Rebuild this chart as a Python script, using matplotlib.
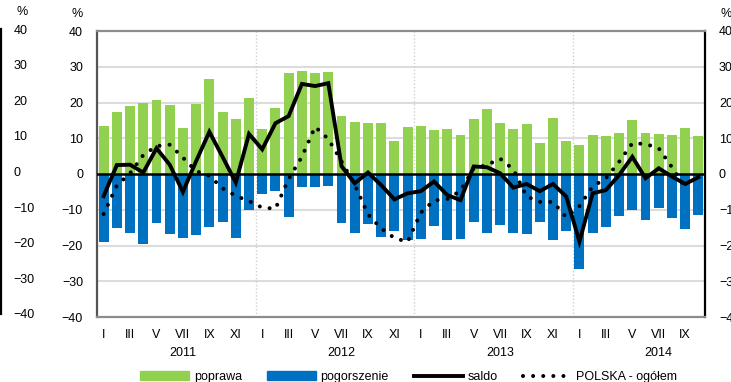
import numpy as np
import matplotlib
matplotlib.use("Agg")
import matplotlib.pyplot as plt
from matplotlib.lines import Line2D
from matplotlib.patches import Patch
from matplotlib import transforms

plt.rcParams['font.family'] = ['Liberation Sans', 'DejaVu Sans']
plt.rcParams['font.size'] = 9

# monthly survey results, I 2011 - X 2014
years = ['2011', '2012', '2013', '2014']
roman = ['I', 'II', 'III', 'IV', 'V', 'VI', 'VII', 'VIII', 'IX', 'X', 'XI', 'XII']

poprawa = [13.3, 17.3, 19.0, 20.0, 20.8, 19.4, 12.9, 19.7, 26.5, 17.3, 15.5, 21.3,
           12.7, 18.6, 28.3, 28.8, 28.3, 28.5, 16.3, 14.6, 14.4, 14.4, 9.3, 13.1,
           13.5, 12.3, 12.7, 10.9, 15.4, 18.1, 14.3, 12.5, 14.1, 8.8, 15.6, 9.2,
           8.0, 10.9, 10.6, 11.6, 15.0, 11.5, 11.2, 10.9, 12.9, 10.5]
pogorszenie = [-19.1, -15.2, -16.5, -19.7, -13.7, -16.9, -17.8, -17.2, -14.7, -13.4, -17.8, -10.2,
               -5.6, -4.7, -12.1, -3.5, -3.7, -3.4, -13.7, -16.5, -14.1, -17.5, -16.0, -18.5,
               -18.2, -14.5, -18.6, -18.2, -13.5, -16.5, -14.4, -16.5, -16.9, -13.3, -18.4, -16.0,
               -26.7, -16.6, -14.9, -11.7, -10.1, -12.8, -9.6, -12.2, -15.4, -11.4]
saldo = [-6.2, 2.5, 2.6, 0.4, 7.2, 2.6, -5.0, 3.6, 11.8, 4.8, -2.4, 11.2,
         6.9, 14.2, 16.2, 25.2, 24.6, 25.4, 2.2, -2.6, 0.4, -3.1, -7.1, -5.4,
         -4.8, -2.1, -5.9, -7.3, 2.1, 1.9, 0.2, -3.8, -2.8, -4.8, -2.8, -6.3,
         -18.9, -5.4, -4.5, -0.3, 4.8, -1.2, 1.6, -0.7, -2.8, -0.9]
polska = [-11.2, -3.2, 0.2, 5.3, 7.8, 8.2, 4.6, 0.8, -0.5, -4.0, -6.1, -7.6,
          -9.4, -9.7, -1.4, 4.8, 13.2, 9.8, 3.5, -3.0, -11.3, -15.2, -17.9, -19.0,
          -10.8, -7.4, -7.0, -4.7, 1.6, 2.5, 4.3, 1.3, -6.3, -7.8, -7.8, -12.1,
          -9.0, -3.5, -1.2, 3.4, 8.6, 8.4, 7.2, 1.9, -3.8, np.nan]

green = '#92D050'
blue = '#0070C0'
n = len(poprawa)
x = np.arange(n)

W, H = 731, 382
fig = plt.figure(figsize=(W / 100, H / 100), dpi=100)
ax = fig.add_axes([97 / W, 1 - 317 / H, 608 / W, 286 / H])

ax.bar(x, poprawa, width=0.75, color=green, zorder=2)
ax.bar(x, pogorszenie, width=0.75, color=blue, zorder=2)
ax.axhline(0, color='black', lw=1.8, zorder=3)
ax.plot(x, saldo, color='black', lw=2.8, solid_joinstyle='miter', zorder=4)
ax.plot(x, polska, color='black', lw=2.9, linestyle=(0, (0.01, 2.5)),
        dash_capstyle='round', zorder=5)

ax.set_xlim(-0.5, n - 0.5)
ax.set_ylim(-40, 40)
ax.set_yticks(range(-40, 41, 10))
for v in range(-30, 31, 10):
    if v != 0:
        ax.axhline(v, color='#dcdcdc', lw=1.5, zorder=1)
for b in (11.5, 23.5, 35.5):
    ax.axvline(b, color='#d0d0d0', lw=1, ls=(0, (1, 1.5)), zorder=1)

ax.set_xticks(x[::2])
ax.set_xticklabels([roman[i % 12] for i in x[::2]])
ax.tick_params(axis='both', length=0, labelsize=9)
ax.tick_params(axis='x', pad=9)
ax.tick_params(axis='y', pad=10)

trans = transforms.blended_transform_factory(ax.transData, ax.transAxes)
for k, yr in enumerate(years):
    ax.text(12 * k + 6, -0.125, yr, transform=trans, ha='center', va='center', fontsize=9)

for side, col in (('top', '#8c8c8c'), ('bottom', '#8c8c8c'), ('left', '#555555'), ('right', 'black')):
    ax.spines[side].set_color(col)
    ax.spines[side].set_linewidth(1.6)

# duplicate scale on the right
axr = ax.twinx()
axr.set_ylim(-40, 40)
axr.set_yticks(range(-40, 41, 10))
axr.tick_params(axis='y', length=0, pad=10, labelsize=9)
for s in axr.spines.values():
    s.set_visible(False)

# neighbouring scale on the far left
axl = fig.add_axes([-0.2, 1 - 314 / H, 0.2 + 1 / W, 285 / H])
axl.set_ylim(-40, 40)
axl.set_yticks(range(-40, 41, 10))
axl.yaxis.tick_right()
axl.tick_params(axis='y', length=0, pad=9, labelsize=9)
axl.set_xticks([])
axl.patch.set_visible(False)
for side in ('top', 'bottom', 'left'):
    axl.spines[side].set_visible(False)
axl.spines['right'].set_color('black')
axl.spines['right'].set_linewidth(1.6)

fig.text(22 / W, 1 - 12 / H, '%', ha='center', va='center', fontsize=9)
fig.text(77 / W, 1 - 14 / H, '%', ha='center', va='center', fontsize=9)
fig.text(726 / W, 1 - 14 / H, '%', ha='center', va='center', fontsize=9)

handles = [Patch(color=green), Patch(color=blue),
           Line2D([], [], color='black', lw=2.8),
           Line2D([], [], color='black', lw=2.9, linestyle=(0, (0.01, 2.5)), dash_capstyle='round')]
labels = ['poprawa', 'pogorszenie', 'saldo', 'POLSKA - ogółem']
fig.legend(handles, labels, loc='center left', bbox_to_anchor=(140 / W, 1 - 377 / H),
           ncol=4, frameon=False, handlelength=3.9, handleheight=0.65, handletextpad=0.4,
           columnspacing=2.0, borderpad=0, borderaxespad=0, fontsize=9)

fig.savefig('out.png', dpi=100)
